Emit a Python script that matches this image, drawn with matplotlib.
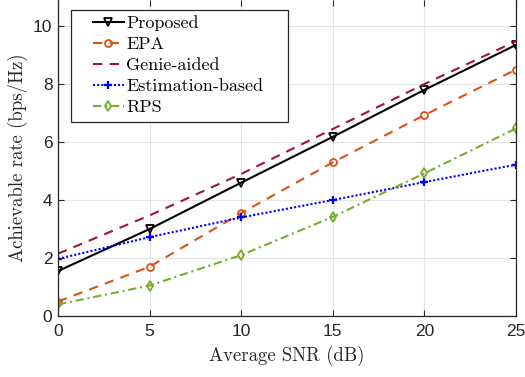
import matplotlib
matplotlib.use("Agg")
import matplotlib.pyplot as plt
from matplotlib.patches import Rectangle

snr = [0, 5, 10, 15, 20, 25]
proposed = [1.55, 3.0, 4.6, 6.18, 7.8, 9.35]
epa = [0.5, 1.7, 3.55, 5.3, 6.93, 8.5]
genie = [2.15, 3.47, 4.9, 6.45, 8.0, 9.48]
estimation = [1.97, 2.72, 3.4, 4.0, 4.62, 5.22]
rps = [0.4, 1.05, 2.1, 3.42, 4.92, 6.47]

labels = ["Proposed", "EPA", "Genie-aided", "Estimation-based", "RPS"]
xticks = [0, 5, 10, 15, 20, 25]
yticks = [0, 2, 4, 6, 8, 10]

W, H = 525, 377
fig = plt.figure(figsize=(W/100, H/100), dpi=100)
ax = fig.add_axes([58/W, 61/H, 458/W, 316/H])

ax.plot(snr, proposed, color="black", lw=1.5, marker="v", ms=5.5, mfc="none", mew=1.3, label=labels[0])
ax.plot(snr, epa, color="#D95319", lw=1.5, ls=(0, (4.5, 3.5)), marker="o", ms=5, mfc="none", mew=1.3, label=labels[1])
ax.plot(snr, genie, color="#A2142F", lw=1.5, ls=(0, (4.5, 3.5)), label=labels[2])
ax.plot(snr, estimation, color="blue", lw=1.5, ls=(0, (1, 1)), marker="+", ms=5.5, mew=1.6, label=labels[3])
ax.plot(snr, rps, color="#77AC30", lw=1.5, ls=(0, (4, 1.8, 1, 1.8)), marker="d", ms=5.5, mfc="none", mew=1.3, label=labels[4])

ax.set_xlim(0, 25)
ax.set_ylim(0, 10.9)
ax.set_xticks(xticks)
ax.set_yticks(yticks)
ax.grid(True, color="#e3e3e3", lw=0.8)
ax.set_axisbelow(True)
ax.tick_params(direction="in", labelsize=12.5, colors="#262626", length=4, right=True, top=True)
ax.tick_params(axis="x", pad=6)
ax.tick_params(axis="y", pad=4)
for lab in ax.get_xticklabels() + ax.get_yticklabels():
    lab.set_family("Liberation Sans")
    lab.set_color("#262626")
for s in ax.spines.values():
    s.set_color("#262626")
    s.set_linewidth(0.9)
ax.spines["top"].set_visible(False)

ax.set_xlabel("Average SNR (dB)", family="cmr10", fontsize=13.5, color="#262626", labelpad=5)
ax.set_ylabel("Achievable rate (bps/Hz)", family="cmr10", fontsize=13.5, color="#262626", labelpad=4)

leg = ax.legend(loc="upper left", bbox_to_anchor=(84/W, 1 - 6/H), bbox_transform=fig.transFigure,
                prop={"family": "cmr10", "size": 13},
                handlelength=1.7, handletextpad=0.15, labelspacing=0.3, borderpad=0.0,
                frameon=False)
leg.set_zorder(6)
box = Rectangle((70.5/W, 1 - 122/H), (288 - 70.5)/W, (122 - 10)/H,
                transform=fig.transFigure, fill=True, facecolor="white",
                edgecolor="#262626", lw=0.9, zorder=5, clip_on=False)
ax.add_patch(box)
fig.savefig("out.png", dpi=100)
